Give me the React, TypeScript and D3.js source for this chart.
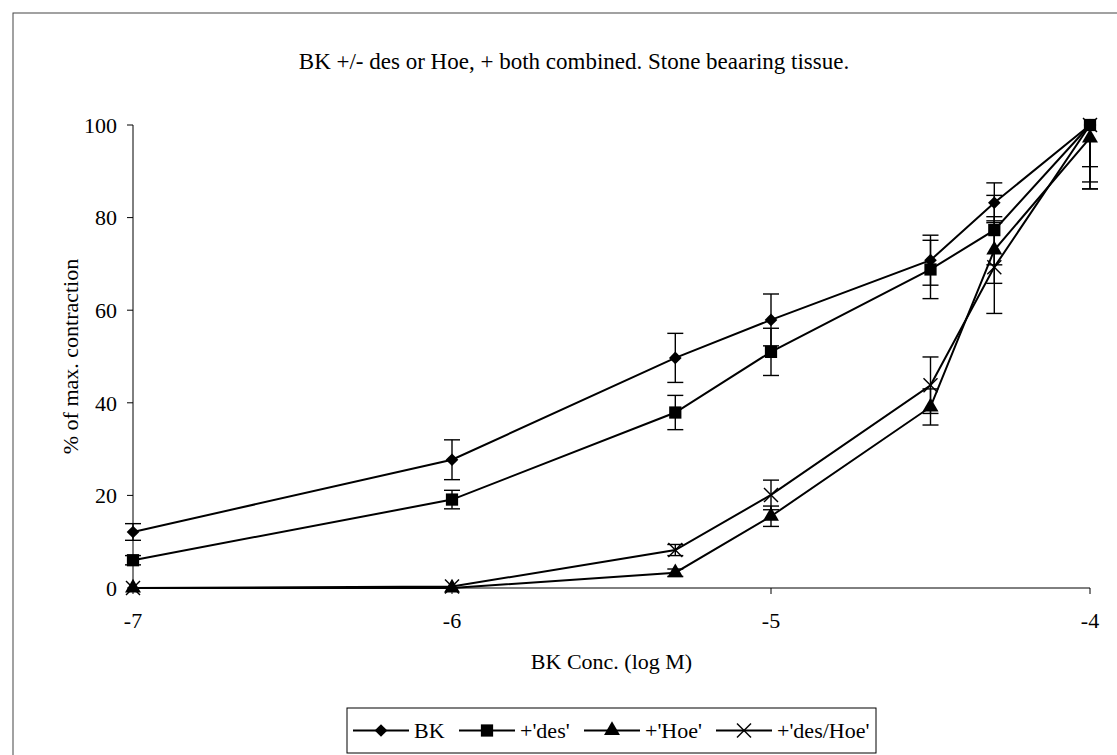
import * as d3 from "d3"

// log BK concentration (M)
const conc = [-7, -6, -5.3, -5, -4.5, -4.3, -4]

const bk = [12.1, 27.7, 49.7, 57.9, 70.8, 83.2, 100]
const bkErr = [1.8, 4.3, 5.3, 5.6, 5.4, 4.3, 9]
const des = [6.0, 19.1, 37.9, 51.0, 68.8, 77.3, 100]
const desErr = [1, 2, 3.7, 5.1, 6.3, 7.5, 12.3]
const hoe = [0, 0, 3.3, 15.5, 39.1, 73, 97.2]
const hoeErr = [0, 0, 0.8, 2.2, 3.9, 7.2, 11]
const desHoe = [0, 0.3, 8.2, 20.1, 43.8, 69.3, 100]
const desHoeErr = [0, 0, 1.2, 3.2, 6.1, 10, 13.8]

const seriesNames = ["BK", "+'des'", "+'Hoe'", "+'des/Hoe'"]
const seriesMarkers = ["diamond", "square", "triangle", "cross"]

const xTicks = [-7, -6, -5, -4]
const yTicks = [0, 20, 40, 60, 80, 100]

const title = "BK +/- des or Hoe, + both combined. Stone beaaring tissue."
const xTitle = "BK Conc. (log M)"
const yTitle = "% of max. contraction"

const FONT = "'Liberation Serif', 'Times New Roman', serif"
const FS = 22

function Marker({ kind, cx, cy }: { kind: string; cx: number; cy: number }) {
    if (kind === "cross") {
        const r = 7
        return (
            <g stroke="#000" strokeWidth={1.4}>
                <line x1={cx - r} y1={cy - r} x2={cx + r} y2={cy + r} />
                <line x1={cx - r} y1={cy + r} x2={cx + r} y2={cy - r} />
            </g>
        )
    }
    if (kind === "diamond") {
        // square turned 45 degrees, as in the spreadsheet markers
        const path = d3.symbol().type(d3.symbolSquare).size(80)() || ""
        return <path d={path} transform={`translate(${cx},${cy}) rotate(45)`} fill="#000" />
    }
    const type = kind === "square" ? d3.symbolSquare : d3.symbolTriangle
    const size = kind === "square" ? 150 : 110
    const path = d3.symbol().type(type).size(size)() || ""
    return <path d={path} transform={`translate(${cx},${cy})`} fill="#000" />
}

export default function App() {
    const width = 1117
    const height = 755

    const x = d3.scaleLinear().domain([-7, -4]).range([133, 1090])
    const y = d3.scaleLinear().domain([0, 100]).range([588, 125])

    const all = [
        { vals: bk, err: bkErr },
        { vals: des, err: desErr },
        { vals: hoe, err: hoeErr },
        { vals: desHoe, err: desHoeErr },
    ]

    const line = d3
        .line<number>()
        .x((_, i) => x(conc[i]))
        .y((d) => y(d))

    // legend layout: line sample + label, laid out left to right
    const lineLen = 56
    const textW = [31, 50, 57, 93]
    const gap = 14
    const pad = 6
    const legendW = pad * 2 + d3.sum(textW) + seriesNames.length * (lineLen + 5) + gap * (seriesNames.length - 1)
    const legendX = (x(-7) + x(-4)) / 2 - legendW / 2
    const legendY = 708
    const legendH = 45
    const offs: number[] = []
    let acc = pad
    textW.forEach((w) => {
        offs.push(acc)
        acc += lineLen + 5 + w + gap
    })

    return (
        <svg
            width={width}
            height={height}
            style={{ position: "absolute", left: 0, top: 0, background: "#fff" }}
            fontFamily={FONT}
        >
            <rect x={13} y={13} width={1200} height={800} fill="none" stroke="#444" strokeWidth={1} />

            <text x={574} y={69} textAnchor="middle" fontSize={23}>
                {title}
            </text>

            {/* y axis */}
            <line x1={x(-7)} y1={y(0)} x2={x(-7)} y2={y(100)} stroke="#000" strokeWidth={1} />
            {yTicks.map((t) => (
                <g key={t}>
                    <line x1={x(-7) - 6} y1={y(t)} x2={x(-7)} y2={y(t)} stroke="#000" />
                    <text x={117} y={y(t)} dy="0.35em" textAnchor="end" fontSize={FS}>
                        {t}
                    </text>
                </g>
            ))}
            <text
                transform={`translate(70,${(y(0) + y(100)) / 2}) rotate(-90)`}
                textAnchor="middle"
                dy="0.35em"
                fontSize={FS}
            >
                {yTitle}
            </text>

            {/* x axis */}
            <line x1={x(-7)} y1={y(0)} x2={x(-4)} y2={y(0)} stroke="#000" strokeWidth={1} />
            {xTicks.map((t) => (
                <g key={t}>
                    <line x1={x(t)} y1={y(0)} x2={x(t)} y2={y(0) + 6} stroke="#000" />
                    <text x={x(t)} y={628} textAnchor="middle" fontSize={FS}>
                        {t}
                    </text>
                </g>
            ))}
            <text x={(x(-7) + x(-4)) / 2} y={669} textAnchor="middle" fontSize={FS}>
                {xTitle}
            </text>

            {/* series */}
            {all.map((s, si) => (
                <g key={si}>
                    {s.vals.map((v, i) => {
                        const e = s.err[i]
                        if (!e) return null
                        const top = y(Math.min(100, v + e))
                        const bot = y(Math.max(0, v - e))
                        const cx = x(conc[i])
                        return (
                            <g key={i} stroke="#000" strokeWidth={1.4}>
                                <line x1={cx} y1={top} x2={cx} y2={bot} />
                                {v + e <= 100 && <line x1={cx - 8} y1={top} x2={cx + 8} y2={top} />}
                                {v - e >= 0 && <line x1={cx - 8} y1={bot} x2={cx + 8} y2={bot} />}
                            </g>
                        )
                    })}
                    <path d={line(s.vals) || ""} fill="none" stroke="#000" strokeWidth={2} />
                    {s.vals.map((v, i) => (
                        <Marker key={i} kind={seriesMarkers[si]} cx={x(conc[i])} cy={y(v)} />
                    ))}
                </g>
            ))}

            {/* legend */}
            <rect x={legendX} y={legendY} width={legendW} height={legendH} fill="#fff" stroke="#000" strokeWidth={1} />
            {seriesNames.map((name, i) => {
                const lx = legendX + offs[i]
                const cy = legendY + legendH / 2
                return (
                    <g key={name}>
                        <line x1={lx} y1={cy} x2={lx + lineLen} y2={cy} stroke="#000" strokeWidth={2} />
                        <Marker kind={seriesMarkers[i]} cx={lx + lineLen / 2} cy={cy} />
                        <text x={lx + lineLen + 5} y={cy} dy="0.35em" fontSize={FS}>
                            {name}
                        </text>
                    </g>
                )
            })}
        </svg>
    )
}
